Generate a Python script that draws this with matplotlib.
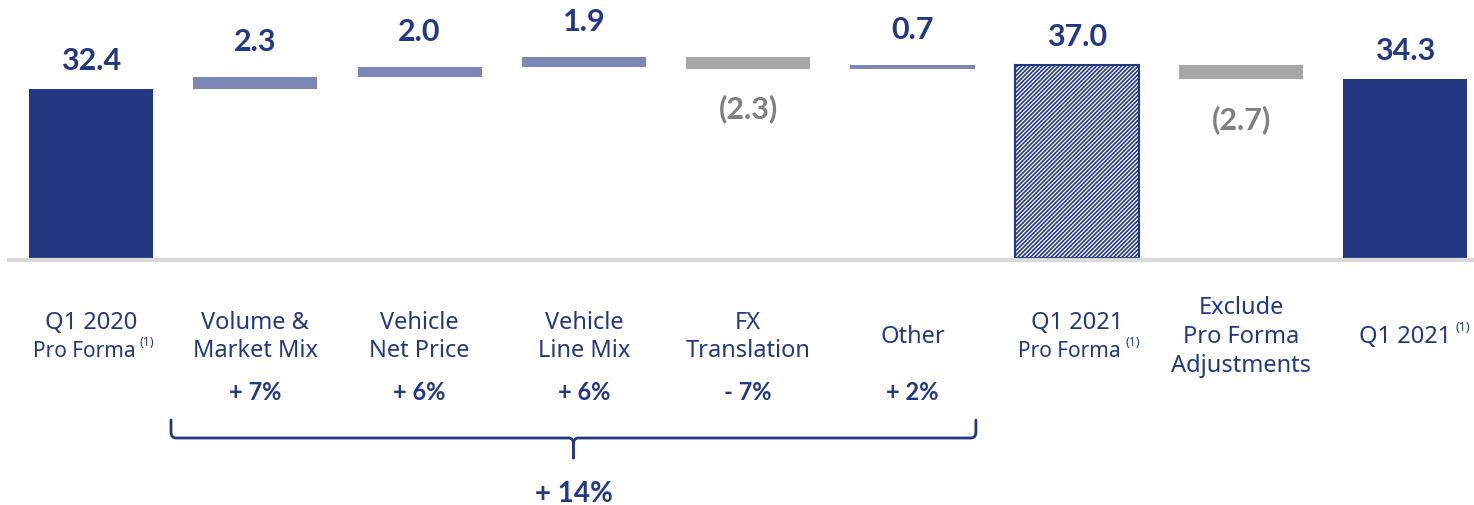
import matplotlib
matplotlib.use('Agg')
import matplotlib.pyplot as plt
import matplotlib.transforms as mtransforms
from matplotlib.path import Path
from matplotlib.patches import PathPatch

plt.rcParams['font.family'] = ['Noto Sans', 'DejaVu Sans']
plt.rcParams['hatch.linewidth'] = 1.2
BOLD = ['Lato', 'DejaVu Sans']

# data
steps = ['Q1 2020 PF', 'Volume & Market Mix', 'Vehicle Net Price', 'Vehicle Line Mix',
         'FX Translation', 'Other', 'Q1 2021 PF', 'Exclude PF Adjustments', 'Q1 2021']
values = [32.4, 2.3, 2.0, 1.9, -2.3, 0.7, 37.0, -2.7, 34.3]
kinds = ['total', 'delta', 'delta', 'delta', 'delta', 'delta', 'proforma', 'delta', 'total']
value_labels = ['32.4', '2.3', '2.0', '1.9', '(2.3)', '0.7', '37.0', '(2.7)', '34.3']
tick_lines = [['Q1 2020', 'Pro Forma'], ['Volume &', 'Market Mix'], ['Vehicle', 'Net Price'],
              ['Vehicle', 'Line Mix'], ['FX', 'Translation'], ['Other'],
              ['Q1 2021', 'Pro Forma'], ['Exclude', 'Pro Forma', 'Adjustments'], ['Q1 2021']]
pct_labels = ['+ 7%', '+ 6%', '+ 6%', '- 7%', '+ 2%']
total_pct = '+ 14%'

NAVY = '#243782'
LIGHT = '#7b88b6'
GRAY = '#a6a6a6'
GRAYTXT = '#808080'

W, H = 1474, 505
fig = plt.figure(figsize=(W / 100, H / 100), dpi=100)
ax = fig.add_axes([0, 0, 1, 1])
ax.set_xlim(-91 / 164.3, (W - 91) / 164.3)
ax.set_ylim(-(H - 258) / 5.21, 258 / 5.21)
ax.axis('off')

def vlabel(i, y, dy, color):
    ax.annotate(value_labels[i], (i, y), xytext=(0, dy), textcoords='offset pixels',
                ha='center', va='center', fontsize=22, fontweight='bold',
                family=BOLD, color=color)

width = 0.755
running = 0.0
for i, (v, k) in enumerate(zip(values, kinds)):
    if k == 'total':
        ax.bar(i, v, width, color=NAVY, zorder=2)
        running = v
        vlabel(i, v, 28, NAVY)
    elif k == 'proforma':
        ax.bar(i, v, width, color='white', edgecolor=NAVY, hatch='////////', linewidth=1.5, zorder=2)
        running = v
        vlabel(i, v, 28, NAVY)
    else:
        c = LIGHT if v > 0 else GRAY
        ax.bar(i, v, width, bottom=running, color=c, zorder=2)
        if v > 0:
            vlabel(i, running + v, 35, NAVY)
        else:
            vlabel(i, running + v, -40, GRAYTXT)
        running += v

# baseline
ax.axhline(-0.45, xmin=9 / W, xmax=1, color='#d9d9d9', lw=3, zorder=3)

# category labels, in data x / figure y
trans = mtransforms.blended_transform_factory(ax.transData, fig.transFigure)
def fy(py):
    return 1 - py / H

pitch = 28.5
for i, lines in enumerate(tick_lines):
    n = len(lines)
    for j, line in enumerate(lines):
        py = 337 + (j - (n - 1) / 2) * pitch
        small = line == 'Pro Forma' and i in (0, 6)
        fs = 15 if small else 17
        t = ax.text(i, fy(py), line, transform=trans, ha='center', va='center',
                    fontsize=fs, color=NAVY)
        if small:
            t.set_transform(trans + mtransforms.ScaledTranslation(-7 / 100, 0, fig.dpi_scale_trans))
        if small or i == 8:
            ax.annotate('(1)', xy=(1, 0.62), xycoords=t, xytext=(3, 0), textcoords='offset points',
                        ha='left', va='bottom', fontsize=9, color=NAVY)

for i, p in enumerate(pct_labels):
    ax.text(i + 1, fy(392), p, transform=trans, ha='center', va='center',
            fontsize=17, fontweight='bold', family=BOLD, color=NAVY)

# bracket under the operational items
xl, xr = 0.487, 5.386
xm = (xl + xr) / 2
yt, yh, yb = fy(420), fy(438), fy(458)
dx, r = 0.03, 0.012
for s in (-1, 1):
    xe = xm + s * (xm - xl)
    verts = [(xe, yt), (xe, yh + r), (xe, yh), (xe - s * dx, yh),
             (xm + s * dx, yh), (xm, yh), (xm, yh - r), (xm, yb)]
    codes = [Path.MOVETO, Path.LINETO, Path.CURVE3, Path.CURVE3,
             Path.LINETO, Path.CURVE3, Path.CURVE3, Path.LINETO]
    ax.add_patch(PathPatch(Path(verts, codes), transform=trans, fill=False,
                           edgecolor=NAVY, lw=2, capstyle='round', joinstyle='round'))
ax.text(xm, fy(494), total_pct, transform=trans, ha='center', va='center',
        fontsize=20, fontweight='bold', family=BOLD, color=NAVY)

fig.savefig('out.png', dpi=100)
